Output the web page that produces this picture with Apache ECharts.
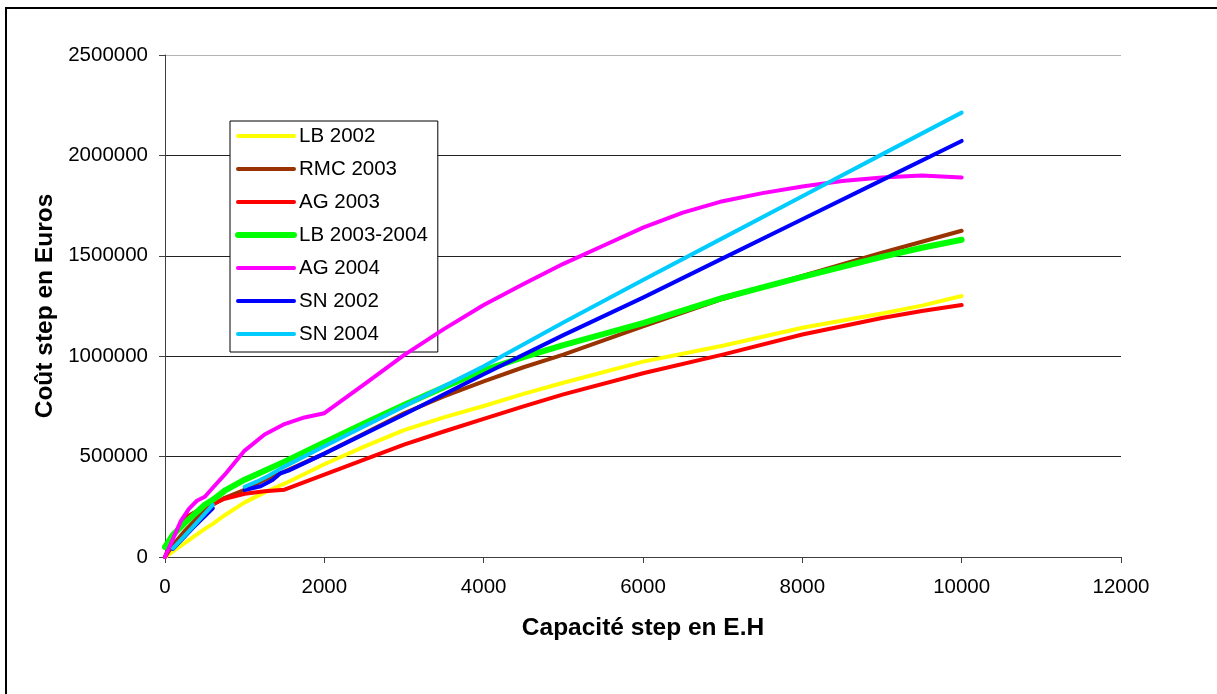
<!DOCTYPE html>
<html>
<head>
<meta charset="utf-8">
<script src="https://cdn.jsdelivr.net/npm/echarts@6/dist/echarts.min.js"></script>
<style>
  html, body { margin: 0; padding: 0; background: #fff; width: 1217px; height: 694px; overflow: hidden; }
  #frame { position: absolute; left: 5px; top: 7px; width: 1300px; height: 800px;
           border-left: 2px solid #000; border-top: 2px solid #000; box-sizing: border-box; }
  #chart { position: absolute; left: 0; top: 0; width: 1217px; height: 694px; }
</style>
</head>
<body>
<div id="frame"></div>
<div id="chart"></div>
<script>
// ---- data (x = Capacité step en E.H, y = Coût step en Euros) ----
const xTicks = [0, 2000, 4000, 6000, 8000, 10000, 12000];
const yTicks = [0, 500000, 1000000, 1500000, 2000000, 2500000];

const seriesNames = ['LB 2002', 'RMC 2003', 'AG 2003', 'LB 2003-2004', 'AG 2004', 'SN 2002', 'SN 2004'];

const lb2002X = [0, 100, 250, 500, 600, 750, 1000, 1250, 1500, 2000, 2500, 3000, 3500, 4000, 4500, 5000, 6000, 7000, 8000, 9000, 9500, 10000];
const lb2002Y = [0, 28000, 70000, 140000, 165000, 208000, 272000, 322000, 365000, 462000, 550000, 632000, 695000, 752000, 812000, 868000, 973000, 1052000, 1142000, 1213000, 1252000, 1300000];

const rmc2003X = [0, 100, 250, 500, 600, 750, 1000, 1250, 1500, 2000, 2500, 3000, 3500, 4000, 4500, 5000, 6000, 7000, 8000, 9000, 9500, 10000];
const rmc2003Y = [0, 60000, 130000, 235000, 260000, 295000, 335000, 385000, 425000, 515000, 615000, 716000, 800000, 875000, 945000, 1008000, 1148000, 1285000, 1400000, 1515000, 1570000, 1625000];

const ag2003X = [0, 100, 250, 500, 600, 750, 1000, 1250, 1500, 2000, 2500, 3000, 3500, 4000, 4500, 5000, 6000, 7000, 8000, 9000, 9500, 10000];
const ag2003Y = [0, 100000, 195000, 250000, 265000, 290000, 315000, 327000, 335000, 410000, 485000, 560000, 625000, 688000, 750000, 810000, 915000, 1008000, 1108000, 1190000, 1225000, 1255000];

const lb0304X = [0, 100, 250, 500, 600, 750, 1000, 1250, 1500, 2000, 2500, 3000, 3500, 4000, 4500, 5000, 6000, 7000, 8000, 9000, 9500, 10000];
const lb0304Y = [50000, 110000, 170000, 260000, 285000, 330000, 385000, 430000, 475000, 570000, 665000, 757000, 845000, 930000, 995000, 1055000, 1165000, 1290000, 1395000, 1495000, 1540000, 1580000];

const ag2004X = [0, 100, 200, 300, 400, 500, 600, 750, 1000, 1250, 1500, 1750, 2000, 2500, 3000, 3500, 4000, 4500, 5000, 5500, 6000, 6500, 7000, 7500, 8000, 8500, 9000, 9500, 10000];
const ag2004Y = [0, 90000, 180000, 240000, 280000, 300000, 345000, 410000, 530000, 610000, 662000, 695000, 716000, 860000, 1005000, 1135000, 1255000, 1360000, 1460000, 1550000, 1640000, 1715000, 1772000, 1812000, 1845000, 1872000, 1890000, 1900000, 1890000];

const sn2002X = [100, 350, 600, 800, 1000, 1200, 1350, 1450, 1550, 2000, 3000, 4000, 5000, 6000, 7000, 8000, 9000, 10000];
const sn2002Y = [40000, 145000, 243000, null, 334000, 352000, 383000, 417000, 430000, 515000, 710000, 910000, 1105000, 1292000, 1487000, 1682000, 1877000, 2072000];

const sn2004X = [100, 350, 600, 800, 1000, 1150, 1300, 1450, 2000, 3000, 4000, 5000, 6000, 7000, 8000, 9000, 10000];
const sn2004Y = [43000, 150000, 260000, null, 350000, 375000, 405000, 440000, 552000, 750000, 950000, 1168000, 1380000, 1588000, 1797000, 2005000, 2213000];

const seriesX = [lb2002X, rmc2003X, ag2003X, lb0304X, ag2004X, sn2002X, sn2004X];
const seriesY = [lb2002Y, rmc2003Y, ag2003Y, lb0304Y, ag2004Y, sn2002Y, sn2004Y];

// ---- styling ----
const colors = ['#FFFF00', '#993300', '#FF0000', '#00FF00', '#FF00FF', '#0000FF', '#00CCFF'];
const widths = [4, 4, 4, 6, 4, 4, 4];
const FONT = '"Liberation Sans", Arial, sans-serif';

const chart = echarts.init(document.getElementById('chart'), null, { renderer: 'canvas' });

const series = seriesNames.map((name, i) => ({
  name: name,
  type: 'line',
  data: seriesX[i].map((x, j) => [x, seriesY[i][j]]),
  symbol: 'none',
  showSymbol: false,
  smooth: false,
  connectNulls: false,
  lineStyle: { color: colors[i], width: widths[i], cap: 'round', join: 'round' },
  itemStyle: { color: colors[i] },
  emphasis: { disabled: true },
  z: 2 + i
}));

const plain = (v) => String(v);

chart.setOption({
  animation: false,
  backgroundColor: 'transparent',
  textStyle: { fontFamily: FONT, color: '#000' },
  grid: { left: 165, right: 96, top: 55, bottom: 137, outerBoundsMode: 'none', containLabel: false },
  legend: {
    orient: 'vertical',
    left: 230,
    top: 121,
    data: seriesNames,
    padding: [3, 10, 6, 5],
    itemGap: 9,
    itemWidth: 56,
    itemHeight: 14,
    backgroundColor: '#fff',
    borderColor: '#000',
    borderWidth: 1,
    borderRadius: 0,
    itemStyle: { opacity: 0 },
    lineStyle: { width: 'inherit', cap: 'round' },
    textStyle: { fontFamily: FONT, fontSize: 20.5, color: '#000', lineHeight: 24 },
    selectedMode: false
  },
  xAxis: {
    type: 'value',
    min: xTicks[0],
    max: xTicks[xTicks.length - 1],
    interval: xTicks[1] - xTicks[0],
    name: 'Capacité step en E.H',
    nameLocation: 'middle',
    nameGap: 59,
    nameTextStyle: { fontFamily: FONT, fontSize: 24.5, fontWeight: 'bold', color: '#000' },
    axisLine: { show: true, onZero: false, lineStyle: { color: '#404040', width: 1 } },
    axisTick: { show: true, length: 6, lineStyle: { color: '#404040', width: 1 } },
    axisLabel: { fontFamily: FONT, fontSize: 20.5, color: '#000', margin: 20, formatter: plain },
    splitLine: { show: false }
  },
  yAxis: {
    type: 'value',
    min: yTicks[0],
    max: yTicks[yTicks.length - 1],
    interval: yTicks[1] - yTicks[0],
    name: 'Coût step en Euros',
    nameLocation: 'middle',
    nameGap: 87,
    nameTextStyle: { fontFamily: FONT, fontSize: 24.5, fontWeight: 'bold', color: '#000' },
    axisLine: { show: true, lineStyle: { color: '#404040', width: 1 } },
    axisTick: { show: true, length: 6, lineStyle: { color: '#404040', width: 1 } },
    axisLabel: { fontFamily: FONT, fontSize: 20.5, color: '#000', margin: 17, formatter: plain },
    splitLine: { show: true, lineStyle: { color: ['#222', '#222', '#222', '#222', '#222', '#b4b4b4'], width: 1 } }
  },
  series: series
});
</script>
</body>
</html>
